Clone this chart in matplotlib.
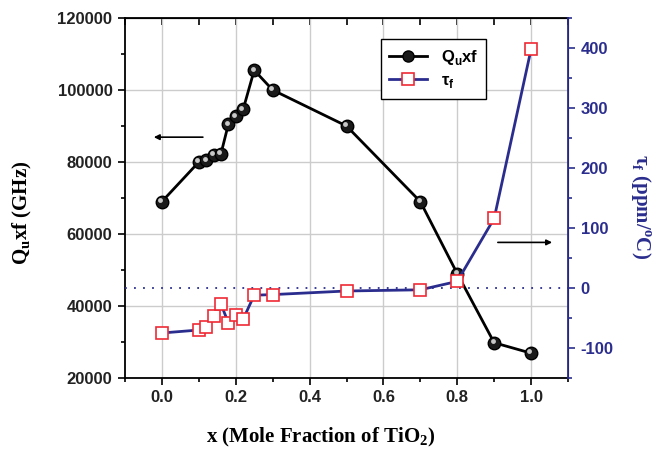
import matplotlib
matplotlib.use("Agg")
import matplotlib.pyplot as plt
from matplotlib.ticker import MultipleLocator
import matplotlib.transforms as mtransforms
from matplotlib.lines import Line2D

plt.rcParams['mathtext.fontset'] = 'custom'
plt.rcParams['mathtext.bf'] = 'Liberation Serif:bold'
plt.rcParams['mathtext.sf'] = 'Liberation Sans:bold'
plt.rcParams['mathtext.rm'] = 'Liberation Serif:bold'

# ---- data ----
x_mole = [0.0, 0.10, 0.12, 0.14, 0.16, 0.18, 0.20, 0.22, 0.25, 0.30, 0.50, 0.70, 0.80, 0.90, 1.00]
qxf = [69000, 80000, 80500, 82000, 82300, 90500, 92700, 94600, 105500, 100000, 90000, 69000, 49000, 29800, 26900]
tauf = [-75, -70, -65, -46, -27, -58, -45, -52, -12, -11, -5, -3, 11, 116, 398]
x_ticks = [0.0, 0.2, 0.4, 0.6, 0.8, 1.0]
q_ticks = [20000, 40000, 60000, 80000, 100000, 120000]
tau_ticks = [-100, 0, 100, 200, 300, 400]
arrow_left = [(0.111, 86900), (-0.022, 86900)]
arrow_right = [(0.91, 76), (1.057, 76)]

NAVY = '#2b2d8e'
RED = '#ee2a35'
SANS = 'Liberation Sans'
SERIF = 'Liberation Serif'

fig = plt.figure(figsize=(6.69, 4.49), dpi=100)
ax = fig.add_axes([125/669, 1-378/449, (568-125)/669, (378-18)/449])
ax2 = ax.twinx()

ax.set_xlim(-0.1, 1.1)
ax.set_ylim(20000, 120000)
ax2.set_ylim(-150, 450)

ax.grid(True, color='#cccccc', lw=1.0)
ax.set_axisbelow(True)

# Q line
ax.plot(x_mole, qxf, color='black', lw=2, marker='o', ms=9,
        mfc='#1a1a1a', mec='black', mew=1.0, zorder=3)
hl = mtransforms.offset_copy(ax.transData, fig=fig, x=-1.2, y=1.2, units='points')
ax.plot(x_mole, qxf, ls='none', marker='o', ms=3.5, mfc='#c8c8c8', mec='none',
        transform=hl, zorder=4)

# tau line
ax2.axhline(0, color=NAVY, ls=(0, (1, 4)), lw=1.3, zorder=1)
ax2.plot(x_mole, tauf, color=NAVY, lw=2, marker='s', ms=8,
         mfc='white', mec=RED, mew=1.2, zorder=3)

# ticks
ax.set_xticks(x_ticks)
ax.set_xticklabels([f'{v:.1f}' for v in x_ticks])
ax.xaxis.set_minor_locator(MultipleLocator(0.1))
ax.set_yticks(q_ticks)
ax.set_yticklabels([str(v) for v in q_ticks])
ax.yaxis.set_minor_locator(MultipleLocator(10000))
ax.tick_params(axis='both', which='major', direction='out', length=5, width=1.2,
               labelsize=12, pad=4)
ax.tick_params(axis='both', which='minor', direction='out', length=3, width=1.2)
for lab in ax.get_xticklabels() + ax.get_yticklabels():
    lab.set_fontfamily(SANS)
    lab.set_fontweight('bold')
    lab.set_color('#222222')

top = ax.secondary_xaxis('top')
top.set_xticks(x_ticks)
top.xaxis.set_minor_locator(MultipleLocator(0.1))
top.tick_params(which='both', direction='in', length=5, width=1.2, labeltop=False)
top.spines['top'].set_linewidth(1.3)

ax2.set_yticks(tau_ticks)
ax2.set_yticklabels([str(v) for v in tau_ticks])
ax2.yaxis.set_minor_locator(MultipleLocator(50))
ax2.tick_params(axis='y', which='major', direction='out', length=5, width=1.2,
                labelsize=12, colors=NAVY, pad=4)
ax2.tick_params(axis='y', which='minor', direction='out', length=3, width=1.2, colors=NAVY)
for lab in ax2.get_yticklabels():
    lab.set_fontfamily(SANS)
    lab.set_fontweight('bold')
ax2.spines['right'].set_color(NAVY)
ax2.spines['right'].set_linewidth(1.3)
for s in ['left', 'bottom']:
    ax.spines[s].set_linewidth(1.3)
ax2.spines['left'].set_visible(False)
ax2.spines['top'].set_visible(False)
ax2.spines['bottom'].set_visible(False)

# labels
ax.set_xlabel(r'x (Mole Fraction of TiO$_\mathbf{2}$)', fontfamily=SERIF,
              fontweight='bold', fontsize=15)
ax.xaxis.set_label_coords(0.442, -0.133)
ax.set_ylabel(r'Q$_\mathbf{u}$xf (GHz)', fontfamily=SERIF, fontweight='bold',
              fontsize=15)
ax.yaxis.set_label_coords(-0.205, 0.458)
ax2.set_ylabel(r'$\mathbf{\tau}_\mathbf{f}$ (ppm/$^\mathbf{o}$C)', fontfamily=SERIF,
               fontweight='bold', fontsize=15, color=NAVY, rotation=270)
ax2.yaxis.set_label_coords(1.190, 0.475)

# arrows
ax.annotate('', xy=arrow_left[1], xytext=arrow_left[0],
            arrowprops=dict(arrowstyle='-|>', color='black', lw=1.2,
                            mutation_scale=8, shrinkA=0, shrinkB=0))
ax2.annotate('', xy=arrow_right[1], xytext=arrow_right[0],
             arrowprops=dict(arrowstyle='-|>', color='black', lw=1.2,
                             mutation_scale=8, shrinkA=0, shrinkB=0))

# legend
h1 = Line2D([], [], color='black', lw=2, marker='o', ms=8, mfc='#1a1a1a', mec='black')
h2 = Line2D([], [], color=NAVY, lw=2, marker='s', ms=8, mfc='white', mec=RED, mew=1.2)
leg = ax2.legend([h1, h2], [r'Q$_\mathsf{u}$xf', r'$\mathsf{\tau}_\mathsf{f}$'],
                 loc='upper left', bbox_to_anchor=(0.577, 0.941), borderaxespad=0,
                 prop={'family': SANS, 'weight': 'bold', 'size': 12},
                 fancybox=False, edgecolor='black', framealpha=1,
                 handlelength=2.3, borderpad=0.5, labelspacing=0.4)
leg.get_frame().set_linewidth(1.0)

fig.savefig('out.png', dpi=100)
